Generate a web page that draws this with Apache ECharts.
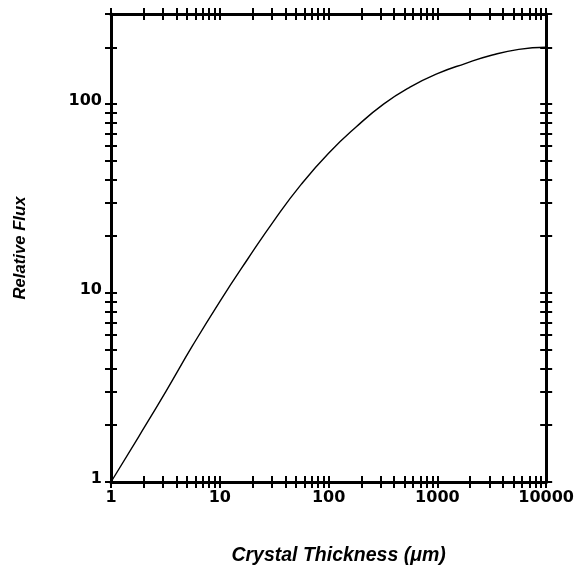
<!DOCTYPE html>
<html>
<head>
<meta charset="utf-8">
<script src="https://cdn.jsdelivr.net/npm/echarts@6/dist/echarts.min.js"></script>
<style>
  html, body { margin: 0; padding: 0; background: #fff; }
  #chart { width: 577px; height: 571px; }
</style>
</head>
<body>
<div id="chart"></div>
<script>
// Crystal thickness (µm), sampled every quarter decade, and the relative flux through it
const thickness = [1, 1.8, 3.2, 5.6, 10, 18, 32, 56, 100, 180, 320, 560, 1000, 1800, 3200, 5600, 10000];
const flux = [1, 1.74, 3.02, 5.25, 9.02, 15.1, 24.5, 37.6, 55, 75.9, 100, 123, 145, 164, 182, 195, 200];

// Axis ranges and labelled decades
const xRange = [1, 10000];
const yRange = [1, 300];
const xTickLabels = [1, 10, 100, 1000, 10000];
const yTickLabels = [1, 10, 100];

// Ticks at 1..9 of every decade inside a range
function logTicks(range) {
  const out = [];
  for (let d = 1; d <= range[1]; d *= 10) {
    for (let m = 1; m <= 9; m++) {
      const v = m * d;
      if (v >= range[0] && v <= range[1]) out.push(v);
    }
  }
  return out;
}

const INK = '#000';
const TICK_LEN = 6;

// One side of the frame is drawn by two axes: ticks pointing out and ticks pointing in,
// so every tick crosses the frame line.
function sideAxes(position, range, labels, withLabels) {
  const ticks = logTicks(range);
  const base = {
    type: 'log',
    logBase: 10,
    min: range[0],
    max: range[1],
    position: position,
    splitLine: { show: false },
    axisLine: { show: true, lineStyle: { color: INK, width: 3 } },
    axisTick: {
      show: true,
      length: TICK_LEN,
      inside: false,
      customValues: ticks,
      lineStyle: { color: INK, width: 2 }
    },
    axisLabel: { show: false }
  };
  const outer = JSON.parse(JSON.stringify(base));
  const inner = JSON.parse(JSON.stringify(base));
  inner.axisTick.inside = true;
  inner.axisLine.show = false;
  if (withLabels) {
    const vertical = position === 'left' || position === 'right';
    outer.axisLabel = {
      show: true,
      customValues: labels,
      color: INK,
      fontFamily: 'DejaVu Sans',
      fontWeight: 'bold',
      fontSize: 16,
      margin: vertical ? 9 : 8,
      formatter: function (v) { return String(Math.round(v)); }
    };
    if (vertical) {
      // digits sit just above their tick, baseline level with it
      outer.axisLabel.verticalAlign = 'bottom';
      outer.axisLabel.lineHeight = 6;
    }
  }
  return [outer, inner];
}

const xAxes = sideAxes('bottom', xRange, xTickLabels, true)
  .concat(sideAxes('top', xRange, xTickLabels, false));
const yAxes = sideAxes('left', yRange, yTickLabels, true)
  .concat(sideAxes('right', yRange, yTickLabels, false));

const titleFont = {
  color: INK,
  fontFamily: 'Liberation Sans',
  fontStyle: 'italic',
  fontWeight: 'bold'
};

xAxes[0].name = 'Crystal Thickness (\u03bcm)';
xAxes[0].nameLocation = 'middle';
xAxes[0].nameGap = 64;
xAxes[0].nameTextStyle = Object.assign({ fontSize: 19.5, padding: [0, 0, 0, 20] }, titleFont);

yAxes[0].name = 'Relative Flux';
yAxes[0].nameLocation = 'middle';
yAxes[0].nameGap = 82;
yAxes[0].nameTextStyle = Object.assign({ fontSize: 16.7 }, titleFont);

const chart = echarts.init(document.getElementById('chart'), null, { renderer: 'canvas' });
chart.setOption({
  backgroundColor: '#fff',
  animation: false,
  grid: { left: 111, right: 29, top: 14, bottom: 86, containLabel: false },
  xAxis: xAxes,
  yAxis: yAxes,
  series: [{
    type: 'line',
    xAxisIndex: 0,
    yAxisIndex: 0,
    data: thickness.map((t, i) => [t, flux[i]]),
    smooth: 0.5,
    symbol: 'none',
    lineStyle: { color: INK, width: 1.4 }
  }]
});
</script>
</body>
</html>
